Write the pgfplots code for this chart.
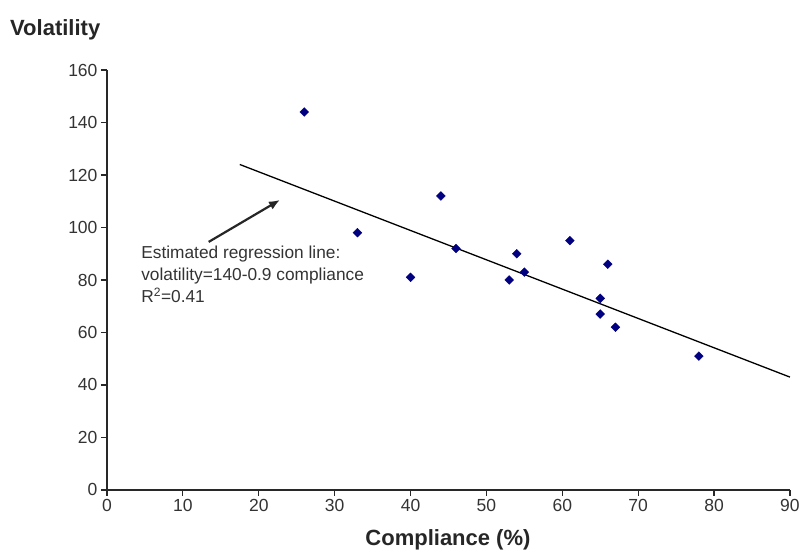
\documentclass[border=0pt]{standalone}
\usepackage{fontspec}
\setmainfont{Liberation Sans}
\usepackage{pgfplots}
\pgfplotsset{compat=1.18}
\usetikzlibrary{arrows.meta}
\definecolor{ptblue}{RGB}{0,0,128}
\definecolor{axgray}{RGB}{40,40,40}
\begin{document}
\begin{tikzpicture}
\begin{axis}[
  at={(0pt,0pt)}, anchor=south west,
  scale only axis, width=683pt, height=420pt,
  xmin=0, xmax=90, ymin=0, ymax=160,
  xtick={0,10,...,90}, ytick={0,20,...,160},
  axis x line*=bottom, axis y line*=left,
  axis line style={axgray, line width=1.2pt, -},
  tick style={axgray, line width=1.2pt},
  tick align=outside, major tick length=6pt,
  ticklabel style={font=\fontsize{17.5}{20}\selectfont, text=black!80},
  /pgf/number format/assume math mode=true,
  clip=false,
]
\addplot[only marks, mark=square*, mark size=3.1pt, mark options={rotate=45}, color=ptblue] coordinates {
(26,144) (33,98) (40,81) (44,112) (46,92) (53,80) (54,90) (55,83)
(61,95) (65,73) (65,67) (66,86) (67,62) (78,51)
};
\addplot[black, line width=1.3pt] coordinates {(17.5,124) (90,43)};
\draw[-{Latex[length=11pt,width=9pt]}, line width=2.2pt, black!85] (axis cs:13.4,94.5) -- (axis cs:22.8,110.5);
\node[anchor=north west, inner sep=0pt, align=left, text=black!80,
  font=\fontsize{17.3}{22}\selectfont] at (axis cs:4.5,93)
  {Estimated regression line:\\volatility=140-0.9 compliance\\R\textsuperscript{2}=0.41};
\end{axis}
\node[anchor=west, inner sep=0pt, font=\bfseries\fontsize{22}{26}\selectfont, text=black!85] at (-97pt,460pt) {Volatility};
\node[anchor=center, inner sep=0pt, font=\bfseries\fontsize{22}{26}\selectfont, text=black!85] at (341pt,-50pt) {Compliance (\%)};
\path (-107pt,-67pt) rectangle (696pt,490pt);
\end{tikzpicture}
\end{document}
